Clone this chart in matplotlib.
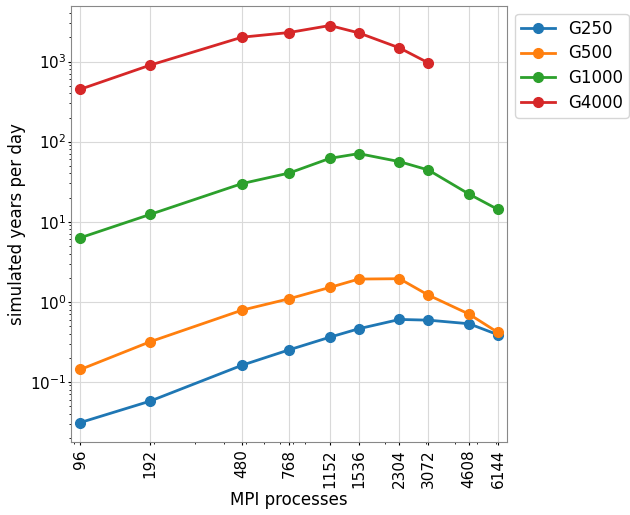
import matplotlib
matplotlib.use("Agg")
import matplotlib.pyplot as plt
from matplotlib.ticker import FixedLocator, FixedFormatter

procs = [96, 192, 480, 768, 1152, 1536, 2304, 3072, 4608, 6144]
g250 = [0.031, 0.0573, 0.161, 0.251, 0.361, 0.46, 0.601, 0.589, 0.531, 0.387]
g500 = [0.1425, 0.316, 0.785, 1.09, 1.51, 1.92, 1.94, 1.21, 0.70, 0.413]
g1000 = [6.3, 12.3, 29.9, 40.5, 61.8, 70.8, 56.2, 44.2, 22.1, 14.2]
procs_g4000 = [96, 192, 480, 768, 1152, 1536, 2304, 3072]
g4000 = [451, 900, 2014, 2304, 2818, 2280, 1480, 962]
tick_labels = [str(p) for p in procs]

fig = plt.figure(figsize=(6.3, 5.15), dpi=100)
ax = fig.add_axes([0.113, 0.141, 0.692, 0.848])

series = [("G250", procs, g250, "#1f77b4"),
          ("G500", procs, g500, "#ff7f0e"),
          ("G1000", procs, g1000, "#2ca02c"),
          ("G4000", procs_g4000, g4000, "#d62728")]
for name, xs, ys, c in series:
    ax.plot(xs, ys, "-o", color=c, label=name, lw=2, ms=7)

ax.set_xscale("log")
ax.set_yscale("log")
ax.margins(x=0.022)
ax.xaxis.set_major_locator(FixedLocator(procs))
ax.xaxis.set_major_formatter(FixedFormatter(tick_labels))
ax.tick_params(axis="x", labelrotation=90, labelsize=11, length=2.5, pad=2.5)
ax.tick_params(axis="y", labelsize=11, length=2.5, pad=1)
ax.tick_params(which="minor", length=1.2)
ax.grid(True, which="major", color="#d9d9d9", lw=0.8)
for s in ax.spines.values():
    s.set_color("#888888")
ax.set_xlabel("MPI processes", fontsize=12, labelpad=2)
ax.set_ylabel("simulated years per day", fontsize=12, labelpad=3)
ax.legend(loc="upper left", bbox_to_anchor=(1.0, 1.0), fontsize=12,
          borderpad=0.35, labelspacing=0.4)

fig.savefig("out.png", dpi=100)
